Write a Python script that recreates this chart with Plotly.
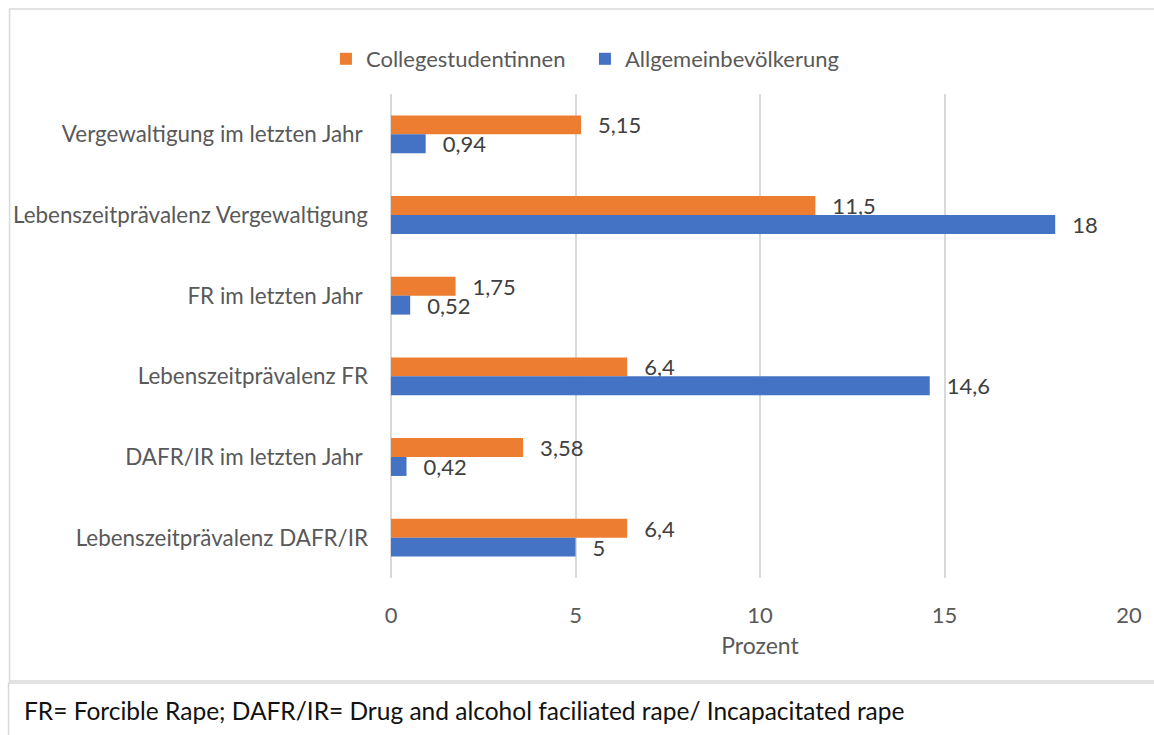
import plotly.graph_objects as go

categories = [
    "Vergewaltigung im letzten Jahr ",
    "Lebenszeitprävalenz Vergewaltigung",
    "FR im letzten Jahr ",
    "Lebenszeitprävalenz FR",
    "DAFR/IR im letzten Jahr ",
    "Lebenszeitprävalenz DAFR/IR",
]
college = [5.15, 11.5, 1.75, 6.4, 3.58, 6.4]
general = [0.94, 18, 0.52, 14.6, 0.42, 5]
series_names = ["Collegestudentinnen", "Allgemeinbevölkerung"]
x_ticks = [0, 5, 10, 15, 20]
footnote = "FR= Forcible Rape; DAFR/IR= Drug and alcohol faciliated rape/ Incapacitated rape"

W, H = 1154, 735
L, R, T, B = 391, 21, 94, 157
pw, ph = W - L - R, H - T - B

def px_x(p):
    return (p - L) / pw

def px_y(p):
    return (H - B - p) / ph

FONT = "Lato"
PAD = "\u00a0\u00a0\u2009"

def lab(vals):
    return [PAD + f"{v:g}".replace(".", ",") for v in vals]

fig = go.Figure()
fig.add_trace(go.Bar(
    y=categories, x=college, name=series_names[0], orientation="h",
    marker=dict(color="#ED7D31", line=dict(width=0)),
    text=lab(college), textposition="outside", cliponaxis=False,
    constraintext="none",
    textfont=dict(family=FONT, size=22, color="#404040"),
))
fig.add_trace(go.Bar(
    y=categories, x=general, name=series_names[1], orientation="h",
    marker=dict(color="#4472C4", line=dict(width=0)),
    text=lab(general), textposition="outside", cliponaxis=False,
    constraintext="none",
    textfont=dict(family=FONT, size=22, color="#404040"),
))

shapes = [
    dict(type="rect", xref="paper", yref="paper",
         x0=px_x(7.5), x1=px_x(1170), y0=px_y(681), y1=px_y(9),
         line=dict(color="#D9D9D9", width=1.5), fillcolor="rgba(0,0,0,0)", layer="below"),
    dict(type="rect", xref="paper", yref="paper",
         x0=px_x(6.5), x1=px_x(1170), y0=px_y(760), y1=px_y(683),
         line=dict(color="#D9D9D9", width=1.5), fillcolor="rgba(0,0,0,0)", layer="below"),
]

fig.update_layout(
    width=W, height=H, autosize=False,
    margin=dict(l=L, r=R, t=T, b=B, pad=0),
    paper_bgcolor="white", plot_bgcolor="white",
    barmode="group", bargap=0.53, bargroupgap=0,
    font=dict(family=FONT, color="#595959"),
    showlegend=True,
    legend=dict(orientation="h", x=px_x(586), xanchor="center",
                y=px_y(59), yanchor="middle", entrywidth=214,
                font=dict(family=FONT, size=22, color="#595959"),
                traceorder="normal", itemclick=False),
    xaxis=dict(range=[0, 20], tickvals=x_ticks, ticktext=[str(t) for t in x_ticks],
               showgrid=True, gridcolor="#D9D9D9", gridwidth=1.5,
               zeroline=True, zerolinecolor="#D9D9D9", zerolinewidth=1.5,
               showline=False, ticks="", ticklabelstandoff=22,
               tickfont=dict(family=FONT, size=22, color="#595959"),
               title=dict(text="Prozent", standoff=10,
                          font=dict(family=FONT, size=23, color="#595959"))),
    yaxis=dict(autorange="reversed", showgrid=False, zeroline=False, showline=False,
               ticks="", ticklabelstandoff=22,
               tickfont=dict(family=FONT, size=22.4, color="#595959")),
    shapes=shapes,
    annotations=[dict(text=footnote, xref="paper", yref="paper",
                      x=px_x(20), y=px_y(710), xanchor="left", yanchor="middle",
                      showarrow=False,
                      font=dict(family=FONT, size=24.5, color="#111111"))],
)

fig.write_html("out.html")
